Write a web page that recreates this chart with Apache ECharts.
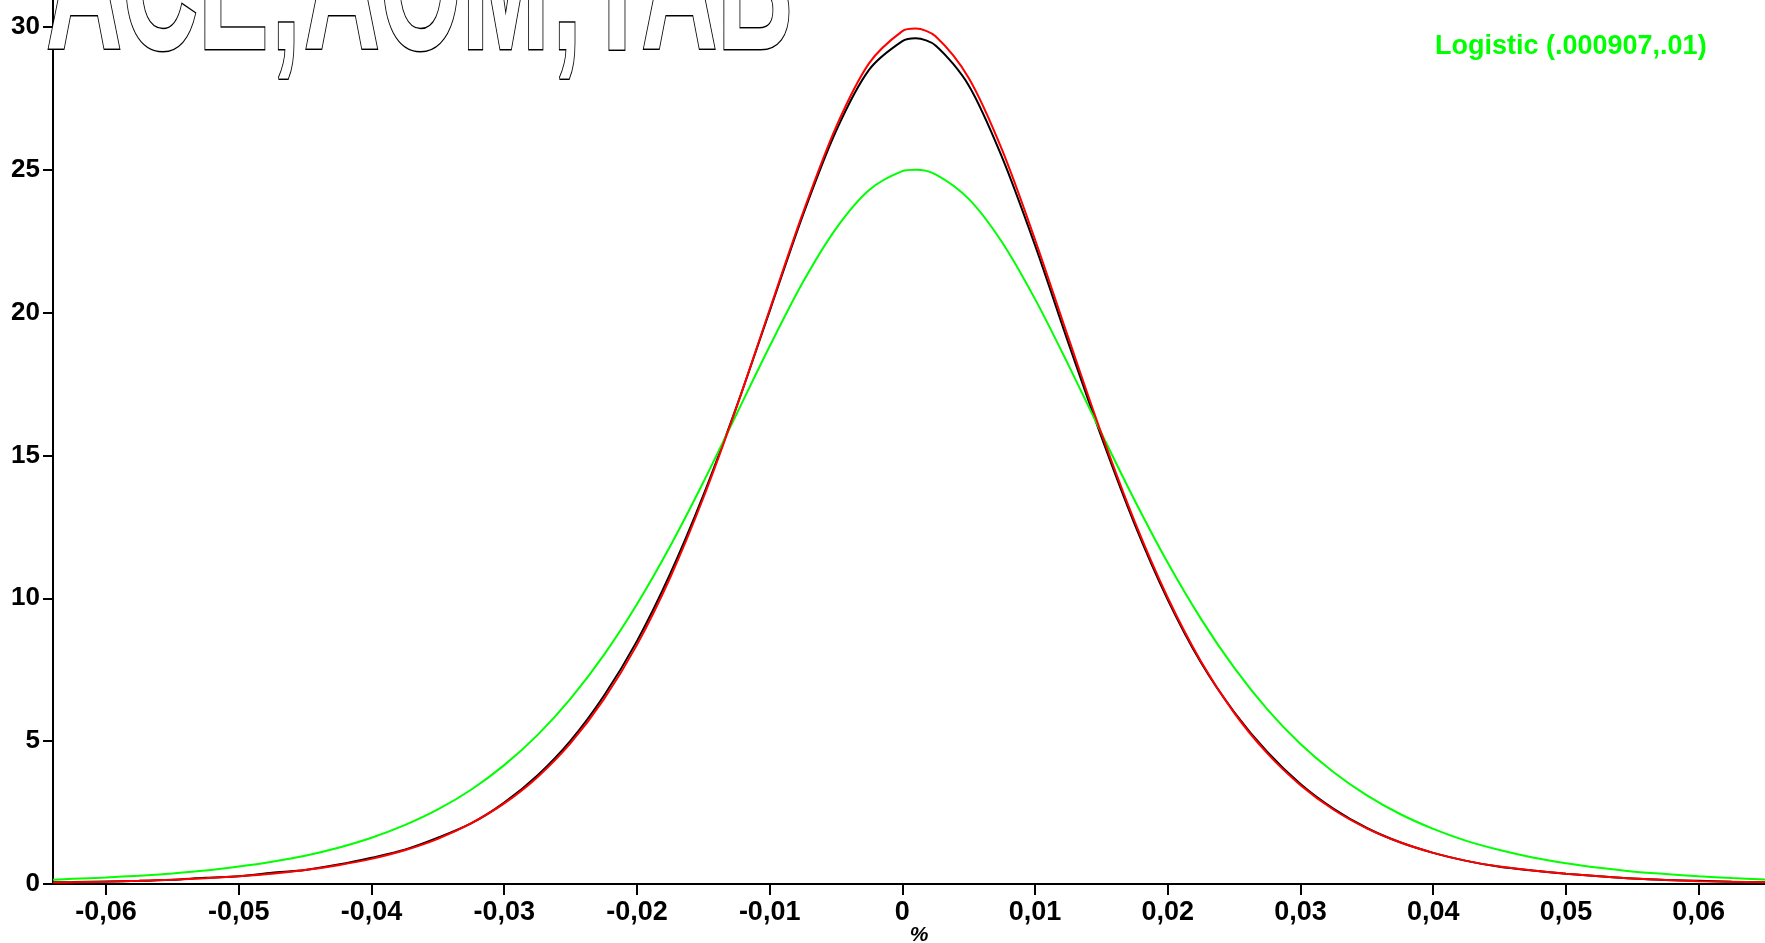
<!DOCTYPE html>
<html>
<head>
<meta charset="utf-8">
<script src="https://cdn.jsdelivr.net/npm/echarts@6/dist/echarts.min.js"></script>
<style>
html,body{margin:0;padding:0;background:#fff;}
#chart{width:1765px;height:943px;}
</style>
</head>
<body>
<div id="chart"></div>
<script>
const titleText = 'ACE;AOM;TAB';
const legendText = 'Logistic (.000907,.01)';
const xAxisName = '%';
const xTicks = [-0.06,-0.05,-0.04,-0.03,-0.02,-0.01,0,0.01,0.02,0.03,0.04,0.05,0.06];
const yTicks = [0,5,10,15,20,25,30];

const xs = [-0.064,-0.0625,-0.06,-0.0575,-0.055,-0.0525,-0.05,-0.0475,-0.045,-0.0425,-0.04,-0.0375,-0.035,-0.0325,-0.03,-0.0275,-0.025,-0.0225,-0.02,-0.0175,-0.015,-0.0125,-0.01,-0.0075,-0.005,-0.0025,0,0.001,0.0025,0.005,0.0075,0.01,0.0125,0.015,0.0175,0.02,0.0225,0.025,0.0275,0.03,0.0325,0.035,0.0375,0.04,0.0425,0.045,0.0475,0.05,0.0525,0.055,0.0575,0.06,0.0625,0.065];

const inputDensity = [0.06,0.07,0.09,0.11,0.15,0.22,0.27,0.39,0.49,0.68,0.92,1.20,1.62,2.12,2.85,3.80,5.02,6.58,8.50,10.85,13.60,16.70,20.05,23.40,26.35,28.50,29.50,29.60,29.35,27.95,25.45,22.35,18.95,15.65,12.60,9.95,7.75,6.02,4.62,3.50,2.63,1.96,1.46,1.09,0.81,0.60,0.47,0.36,0.27,0.19,0.14,0.11,0.08,0.06];

const fitted = [0.05,0.06,0.08,0.11,0.15,0.20,0.27,0.36,0.49,0.66,0.88,1.18,1.58,2.12,2.82,3.74,4.93,6.46,8.37,10.72,13.51,16.68,20.10,23.48,26.49,28.73,29.85,29.94,29.67,28.21,25.71,22.55,19.13,15.77,12.69,10.02,7.79,5.99,4.57,3.46,2.60,1.95,1.46,1.09,0.81,0.61,0.47,0.36,0.27,0.19,0.14,0.10,0.08,0.06];

const logistic = [0.15,0.18,0.23,0.29,0.37,0.47,0.61,0.78,0.99,1.27,1.62,2.06,2.61,3.30,4.16,5.21,6.49,8.01,9.79,11.82,14.06,16.44,18.82,21.06,22.94,24.29,24.95,25.00,24.84,23.98,22.47,20.47,18.18,15.78,13.43,11.24,9.28,7.57,6.11,4.90,3.91,3.10,2.45,1.93,1.51,1.19,0.93,0.73,0.57,0.44,0.35,0.27,0.21,0.16];

function pairs(ys){ return xs.map((x,i)=>[x, ys[i]]); }
function fmtX(v){ if (Math.abs(v) < 1e-9) return '0'; return v.toFixed(2).replace('.', ','); }

const chart = echarts.init(document.getElementById('chart'), null, {renderer:'canvas'});
const axisFont = {fontFamily:'"Liberation Sans", Arial, sans-serif', fontWeight:'bold', color:'#000'};

chart.setOption({
  animation:false,
  backgroundColor:'#fff',
  grid:{left:53, right:0, top:0, bottom:59, containLabel:false},
  xAxis:{
    type:'value', min:-0.064, max:0.065,
    axisLine:{onZero:false, lineStyle:{color:'#000', width:2}},
    axisTick:{show:true, length:11, customValues:xTicks, lineStyle:{color:'#000', width:2}},
    axisLabel:Object.assign({customValues:xTicks, fontSize:27, margin:15, formatter:fmtX}, axisFont),
    splitLine:{show:false}
  },
  yAxis:{
    type:'value', min:0, max:30.94,
    axisLine:{show:true, onZero:false, lineStyle:{color:'#000', width:2}},
    axisTick:{show:true, length:10, customValues:yTicks, lineStyle:{color:'#000', width:2}},
    axisLabel:Object.assign({customValues:yTicks, fontSize:26, margin:13}, axisFont),
    splitLine:{show:false}
  },
  graphic:[
    {type:'text', x:46, y:-99, scaleX:0.83, scaleY:1.5, originX:0, originY:0, z:1,
     style:{text:titleText, font:'bold 127px "Liberation Sans", Arial, sans-serif',
       fill:'#fff', stroke:'#000', lineWidth:2, verticalAlign:'top', align:'left'}},
    {type:'text', x:1435, y:47, z:10,
     style:{text:legendText, font:'bold 27px "Liberation Sans", Arial, sans-serif', fill:'#00ff00',
       verticalAlign:'middle', align:'left'}},
    {type:'text', x:919, y:935, z:10,
     style:{text:xAxisName, font:'italic bold 21px "Liberation Sans", Arial, sans-serif', fill:'#000',
       verticalAlign:'middle', align:'center'}}
  ],
  series:[
    {type:'line', name:'Input', data:pairs(inputDensity), showSymbol:false, smooth:0.3,
     lineStyle:{color:'#000', width:2}, z:3},
    {type:'line', name:'Logistic', data:pairs(logistic), showSymbol:false, smooth:0.3,
     lineStyle:{color:'#00ff00', width:2}, z:4},
    {type:'line', name:'Fit', data:pairs(fitted), showSymbol:false, smooth:0.3,
     lineStyle:{color:'#ff0000', width:2}, z:5}
  ]
});
</script>
</body>
</html>
